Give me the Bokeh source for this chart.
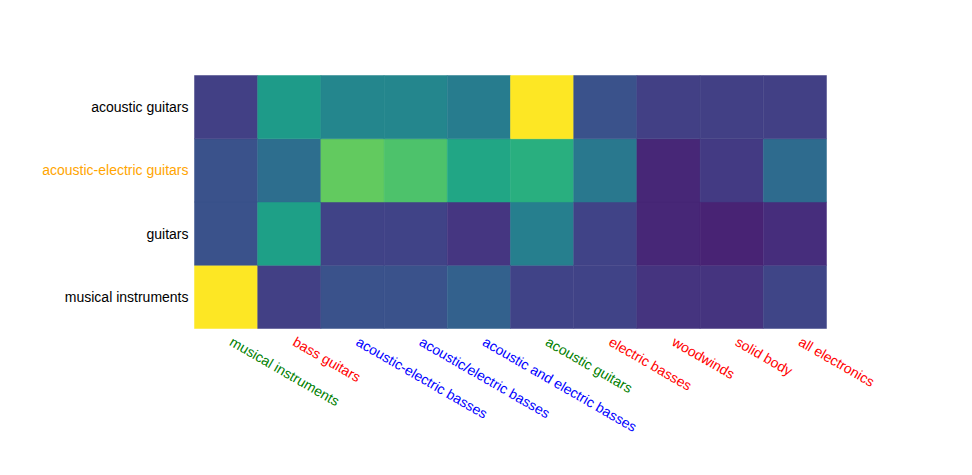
import math
from bokeh.plotting import figure
from bokeh.models import ColumnDataSource, LinearColorMapper, LabelSet, Range1d
from bokeh.core.properties import value
from bokeh.palettes import Viridis256
from bokeh.embed import file_html
from bokeh.resources import INLINE

x_labels = ["musical instruments", "bass guitars", "acoustic-electric basses",
            "acoustic/electric basses", "acoustic and electric basses",
            "acoustic guitars", "electric basses", "woodwinds", "solid body",
            "all electronics"]
x_colors = ["green", "red", "blue", "blue", "blue", "green", "red", "red", "red", "red"]

# bottom to top
y_labels = ["musical instruments", "guitars", "acoustic-electric guitars", "acoustic guitars"]
y_colors = ["black", "black", "orange", "black"]

row_musical_instruments = [1.00, 0.19, 0.25, 0.25, 0.31, 0.20, 0.20, 0.15, 0.15, 0.21]
row_guitars = [0.25, 0.57, 0.20, 0.20, 0.16, 0.43, 0.20, 0.11, 0.10, 0.13]
row_acoustic_electric_guitars = [0.25, 0.36, 0.76, 0.72, 0.59, 0.63, 0.40, 0.11, 0.17, 0.35]
row_acoustic_guitars = [0.19, 0.55, 0.46, 0.46, 0.42, 1.00, 0.25, 0.19, 0.19, 0.19]

rows = [row_musical_instruments, row_guitars, row_acoustic_electric_guitars, row_acoustic_guitars]

# layout (pixels)
W, H = 956, 459
LEFT, TOP, CELL_W, CELL_H = 194, 75, 63.2, 63.25
nx, ny = len(x_labels), len(y_labels)

xs, ys, zs = [], [], []
for j, row in enumerate(rows):
    for i, v in enumerate(row):
        xs.append(i + 0.5)
        ys.append(j + 0.5)
        zs.append(v)

src = ColumnDataSource(dict(x=xs, y=ys, z=zs))
mapper = LinearColorMapper(palette=Viridis256, low=0, high=1)

x_range = Range1d(-LEFT / CELL_W, (W - LEFT) / CELL_W)
bottom_px = H - (TOP + ny * CELL_H)
y_range = Range1d(-bottom_px / CELL_H, (H - bottom_px) / CELL_H)

p = figure(width=W, height=H, x_range=x_range, y_range=y_range,
           output_backend="svg", toolbar_location=None,
           min_border_left=0, min_border_right=0, min_border_top=0, min_border_bottom=0)
p.rect(x="x", y="y", width=1, height=1, source=src,
       fill_color={"field": "z", "transform": mapper},
       line_color={"field": "z", "transform": mapper}, line_width=0.5)

p.axis.visible = False
p.grid.visible = False
p.outline_line_color = None

xsrc = ColumnDataSource(dict(x=[i + 0.5 for i in range(nx)], y=[0] * nx,
                             t=x_labels, c=x_colors))
p.add_layout(LabelSet(x="x", y="y", text="t", source=xsrc, angle=-math.pi / 6,
                      text_align="left", text_baseline="top", x_offset=9, y_offset=-5,
                      text_color="c", text_font=value("Liberation Sans"),
                      text_font_size=value("14px")))

ysrc = ColumnDataSource(dict(x=[0] * ny, y=[j + 0.5 for j in range(ny)],
                             t=y_labels, c=y_colors))
p.add_layout(LabelSet(x="x", y="y", text="t", source=ysrc, text_align="right",
                      text_baseline="middle", x_offset=-6, text_color="c",
                      text_font=value("Liberation Sans"), text_font_size=value("14px")))

open("out.html", "w").write(file_html(p, INLINE))
